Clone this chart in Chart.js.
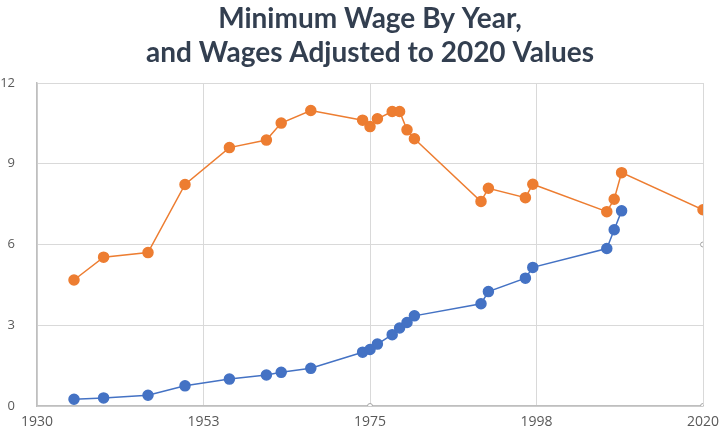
<!DOCTYPE html>
<html>
<head>
<meta charset="utf-8">
<script src="https://cdn.jsdelivr.net/npm/chart.js@4"></script>
<style>
  html, body { margin: 0; padding: 0; background: #fff; }
  #wrap { width: 720px; height: 428px; }
</style>
</head>
<body>
<div id="wrap"><canvas id="wageChart"></canvas></div>
<script>
const years = [1935, 1939, 1945, 1950, 1956, 1961, 1963, 1967, 1974, 1975, 1976, 1978, 1979, 1980, 1981, 1990, 1991, 1996, 1997, 2007, 2008, 2009];
const nominalWage = [0.25, 0.30, 0.40, 0.75, 1.00, 1.15, 1.25, 1.40, 2.00, 2.10, 2.30, 2.65, 2.90, 3.10, 3.35, 3.80, 4.25, 4.75, 5.15, 5.85, 6.55, 7.25];
const adjustedYears = [1935, 1939, 1945, 1950, 1956, 1961, 1963, 1967, 1974, 1975, 1976, 1978, 1979, 1980, 1981, 1990, 1991, 1996, 1997, 2007, 2008, 2009, 2020];
const adjustedWage = [4.68, 5.53, 5.70, 8.23, 9.60, 9.88, 10.51, 10.98, 10.62, 10.38, 10.67, 10.94, 10.94, 10.26, 9.93, 7.60, 8.09, 7.74, 8.24, 7.22, 7.68, 8.67, 7.29];
// small hollow selection handles visible on the picture
const handleX = [1975, 2020, 2020];
const handleY = [0, 0, 6];

const xTicks = [1930, 1952.5, 1975, 1997.5, 2020];
const yTicks = [0, 3, 6, 9, 12];
const titleLines = ['Minimum Wage By Year,', 'and Wages Adjusted to 2020 Values'];

const toPoints = (xs, ys) => xs.map((x, i) => ({ x: x, y: ys[i] }));

// title centred over the plot area, like the original
const plotTitle = {
  id: 'plotTitle',
  afterDraw(chart) {
    const c = chart.ctx;
    const mid = (chart.chartArea.left + chart.chartArea.right) / 2;
    c.save();
    c.fillStyle = '#333f50';
    c.font = 'bold 28px Lato';
    c.textAlign = 'center';
    c.textBaseline = 'alphabetic';
    c.fillText(titleLines[0], mid, 28);
    c.fillText(titleLines[1], mid, 62);
    c.restore();
  }
};

const ctx = document.getElementById('wageChart');

const chart = new Chart(ctx, {
  type: 'line',
  data: {
    datasets: [{
      label: 'Minimum wage',
      data: toPoints(years, nominalWage),
      borderColor: '#4472C4',
      backgroundColor: '#4472C4',
      borderWidth: 1.5,
      pointRadius: 5,
      pointHoverRadius: 5,
      tension: 0
    }, {
      label: 'Adjusted to 2020',
      data: toPoints(adjustedYears, adjustedWage),
      borderColor: '#ED7D31',
      backgroundColor: '#ED7D31',
      borderWidth: 1.5,
      pointRadius: 5,
      pointHoverRadius: 5,
      tension: 0
    }, {
      label: 'handles',
      data: toPoints(handleX, handleY),
      showLine: false,
      borderColor: '#a6a6a6',
      backgroundColor: '#ffffff',
      borderWidth: 1,
      pointRadius: 2.5
    }]
  },
  plugins: [plotTitle],
  options: {
    responsive: true,
    maintainAspectRatio: false,
    animation: false,
    layout: { padding: { top: 83, right: 17, bottom: 0, left: 0 } },
    plugins: {
      legend: { display: false },
      tooltip: { enabled: false },
      title: { display: false }
    },
    scales: {
      x: {
        type: 'linear',
        min: 1930,
        max: 2020,
        afterBuildTicks: (axis) => { axis.ticks = xTicks.map(v => ({ value: v })); },
        afterFit: (axis) => {
          axis.height = 22;
          axis.paddingLeft = 0;
          axis.paddingRight = 0;
        },
        ticks: {
          color: '#595959',
          font: { family: 'Open Sans', size: 14 },
          padding: 8,
          maxRotation: 0,
          callback: (v) => Math.round(v)
        },
        grid: { color: '#d9d9d9', drawTicks: false },
        border: { color: '#bfbfbf', width: 1.5 }
      },
      y: {
        min: 0,
        max: 12,
        afterBuildTicks: (axis) => { axis.ticks = yTicks.map(v => ({ value: v })); },
        afterFit: (axis) => {
          axis.width = 37;
          axis.paddingTop = 0;
          axis.paddingBottom = 0;
        },
        ticks: {
          color: '#595959',
          font: { family: 'Open Sans', size: 13 },
          padding: 22
        },
        grid: { color: '#d9d9d9', drawTicks: false },
        border: { color: '#bfbfbf', width: 1.5 }
      }
    }
  }
});
</script>
</body>
</html>
